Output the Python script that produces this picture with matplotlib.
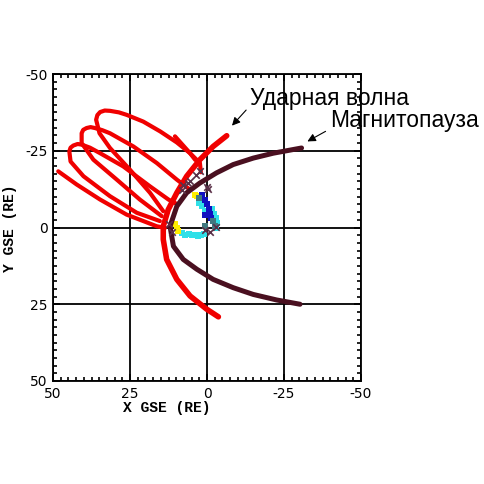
import matplotlib
matplotlib.use('Agg')
import matplotlib.pyplot as plt
from matplotlib.ticker import MultipleLocator

plt.rcParams['axes.unicode_minus'] = False

# --- bow shock (RE, GSE) ---
shock_x = [-6.4, -2.0, 2.3, 6.6, 9.8, 12.6, 14.2, 14.2, 13.1, 9.8, 5.5, 0.1, -3.7]
shock_y = [-29.9, -26.4, -22.1, -16.7, -11.3, -5.8, -0.4, 3.9, 10.4, 16.9, 22.3, 26.6, 29.1]

# --- magnetopause ---
mp_x = [-30.7, -21.5, -15.0, -8.5, -3.1, 2.3, 6.6, 9.8, 12.0, 10.9, 7.7, 3.3, -2.0, -8.5, -15.0, -22.6, -30.2]
mp_y = [-25.9, -24.2, -22.6, -20.5, -17.8, -14.5, -11.3, -6.9, -0.4, 6.1, 10.4, 13.6, 16.9, 19.6, 21.8, 23.6, 25.0]

# --- orbit segments (red) ---
orb1_x = [14.2, 18.5, 25.0, 31.5, 34.9, 36.0, 35.6, 34.7, 33.2, 31.5, 28.6, 26.1, 20.7, 15.2, 9.8, 5.5, 2.3, 2.0]
orb1_y = [-5.3, -11.3, -18.8, -25.9, -30.7, -35.1, -36.6, -37.6, -38.1, -38.0, -37.5, -36.7, -34.5, -31.3, -27.7, -24.2, -21.0, -18.0]
orb2_x = [14.7, 21.8, 29.3, 36.9, 40.7, 40.7, 40.2, 39.1, 37.8, 36.4, 34.0, 31.5, 23.9, 16.3, 9.8, 5.5]
orb2_y = [-3.7, -9.1, -15.6, -22.1, -27.5, -30.7, -31.8, -32.4, -32.7, -32.4, -31.7, -30.7, -26.4, -21.0, -15.6, -12.3]
orb3_x = [15.3, 22.8, 31.5, 40.1, 44.3, 44.7, 44.3, 43.4, 42.0, 40.7, 38.0, 34.7, 27.2, 18.5, 12.5, 9.5]
orb3_y = [-2.1, -4.8, -10.2, -16.7, -21.5, -24.8, -26.0, -26.7, -27.2, -27.0, -26.0, -24.2, -19.9, -13.4, -9.1, -7.5]
orb4_x = [48.3, 42.3, 34.7, 26.1, 16.3, 13.6]
orb4_y = [-18.3, -14.0, -9.1, -4.2, -0.4, 0.1]
stub_x = [10.4, 5.5, 3.8]
stub_y = [-29.7, -24.2, -22.0]

# --- magnetopause crossings (dark crosses) ---
cross_x = [2.3, 5.5, 7.7, 8.2, 0.1, -0.4, 6.2, 3.5, 12.5, 11.5, 0.5, -1.0, -2.8]
cross_y = [-18.3, -15.0, -13.9, -12.3, -13.3, -12.4, -14.5, -17.0, -1.0, 1.5, 0.8, 1.5, -0.2]

# --- points inside the magnetosphere ---
yel_x = [3.9, 3.1, 2.3, 10.4, 9.9, 9.4]
yel_y = [-10.7, -10.2, -9.7, -1.0, 0.2, 1.3]
cyan_x = [8.0, 7.0, 6.0, 5.0, 4.0, 3.0, 2.0, 1.0, -1.5, -2.2, -2.8, -3.3, -3.0, 2.5, 1.5, 0.8]
cyan_y = [1.8, 2.3, 2.0, 2.6, 2.4, 2.8, 2.5, 2.2, -6.0, -4.5, -3.0, -1.5, 0.0, -8.0, -7.0, -5.5]
blue_x = [1.5, 0.5, 0.0, -0.5, -1.0, 0.5, -1.2]
blue_y = [-10.5, -9.0, -7.5, -6.0, -4.5, -4.0, -3.0]
teal_x = [2.5, -2.0, -2.5, 0.5]
teal_y = [-9.5, -2.0, -0.5, -0.5]

RED = '#f00000'
MP = '#4a1020'

fig = plt.figure(figsize=(4.84, 4.84), dpi=100)
ax = fig.add_axes([53 / 484, 1 - 381 / 484, 308 / 484, 307 / 484])

ax.set_xlim(50, -50)
ax.set_ylim(50, -50)

ax.xaxis.set_major_locator(MultipleLocator(25))
ax.yaxis.set_major_locator(MultipleLocator(25))
ax.xaxis.set_minor_locator(MultipleLocator(2.5))
ax.yaxis.set_minor_locator(MultipleLocator(2.5))
ax.tick_params(which='both', direction='in', top=True, right=True, width=1.2, color='k')
ax.tick_params(which='major', length=5, labelsize=10, pad=4)
ax.tick_params(which='minor', length=3)
ax.grid(True, which='major', color='k', lw=1.3)
ax.set_axisbelow(True)
for s in ax.spines.values():
    s.set_linewidth(1.3)

for lx, ly in [(orb4_x, orb4_y), (orb3_x, orb3_y), (orb2_x, orb2_y), (orb1_x, orb1_y), (stub_x, stub_y)]:
    ax.plot(lx, ly, color=RED, lw=3.0, solid_capstyle='round', solid_joinstyle='round', zorder=3)

ax.plot(shock_x, shock_y, color=RED, lw=4, solid_capstyle='round', solid_joinstyle='round', zorder=4)

ax.scatter(cyan_x, cyan_y, s=14, marker='s', color='#30e0e8', lw=0, zorder=5)
ax.scatter(yel_x, yel_y, s=16, marker='s', color='#ffee00', lw=0, zorder=5)
ax.scatter(blue_x, blue_y, s=14, marker='s', color='#1010c0', lw=0, zorder=5)
ax.scatter(teal_x, teal_y, s=14, marker='s', color='#407880', lw=0, zorder=5)

ax.plot(mp_x, mp_y, color=MP, lw=3.6, solid_capstyle='round', solid_joinstyle='round', zorder=6)
ax.scatter(cross_x, cross_y, s=22, marker='x', color='#5a3048', lw=1.2, zorder=7)

for lbl in ax.get_xticklabels() + ax.get_yticklabels():
    lbl.set_family('DejaVu Sans')

fig.text(167 / 484, 1 - 408 / 484, 'X GSE (RE)', family='Liberation Mono', weight='bold',
         fontsize=10.5, ha='center', va='center')
fig.text(10 / 484, 1 - 228 / 484, 'Y GSE (RE)', family='Liberation Mono', weight='bold',
         fontsize=10.5, ha='center', va='center', rotation=90)

# labels with arrows
ax.annotate('', xy=(-7.5, -32.5), xytext=(248, 484 - 108), textcoords='figure pixels',
            arrowprops=dict(arrowstyle='-|>', color='k', lw=0.8, mutation_scale=12),
            annotation_clip=False, zorder=8)
ax.annotate('', xy=(-31.8, -27.6), xytext=(328, 484 - 130), textcoords='figure pixels',
            arrowprops=dict(arrowstyle='-|>', color='k', lw=0.8, mutation_scale=12),
            annotation_clip=False, zorder=8)
fig.text(250 / 484, 1 - 98 / 484, 'Ударная волна', family='Liberation Sans',
         fontsize=16.5, ha='left', va='center')
fig.text(330 / 484, 1 - 121 / 484, 'Магнитопауза', family='Liberation Sans',
         fontsize=16.5, ha='left', va='center')

fig.savefig('out.png', dpi=100)
